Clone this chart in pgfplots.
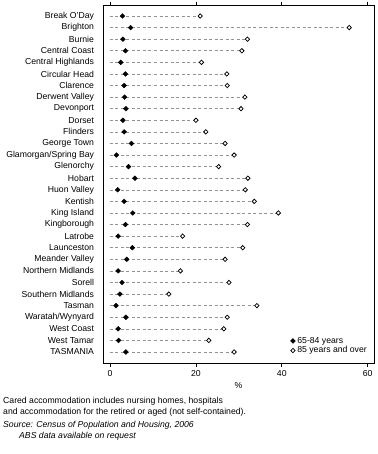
\documentclass[border=0pt]{standalone}
\usepackage{fontspec}
\setmainfont{Liberation Sans}
\usepackage{pgfplots}
\pgfplotsset{compat=1.18}
\usepackage{pgfplotstable}

% 65-84 years (young) and 85 years and over (old), % in cared accommodation
\pgfplotstableread[col sep=comma]{
idx,name,young,old
0,Break O'Day,2.9,21.0
1,Brighton,4.8,55.7
2,Burnie,3.0,32.0
3,Central Coast,3.6,30.7
4,Central Highlands,2.5,21.3
5,Circular Head,3.6,27.2
6,Clarence,3.3,27.3
7,Derwent Valley,3.4,31.4
8,Devonport,3.7,30.5
9,Dorset,3.0,20.0
10,Flinders,3.3,22.3
11,George Town,5.0,26.8
12,Glamorgan/Spring Bay,1.5,28.9
13,Glenorchy,4.3,25.3
14,Hobart,5.8,32.1
15,Huon Valley,1.8,31.5
16,Kentish,3.3,33.6
17,King Island,5.3,39.2
18,Kingborough,3.6,32.0
19,Latrobe,1.9,16.9
20,Launceston,5.2,30.9
21,Meander Valley,3.9,26.8
22,Northern Midlands,1.9,16.4
23,Sorell,2.8,27.7
24,Southern Midlands,2.3,13.7
25,Tasman,1.4,34.2
26,Waratah/Wynyard,3.7,27.3
27,West Coast,1.9,26.5
28,West Tamar,2.0,23.0
29,TASMANIA,3.7,28.9
}\lgadata

\newcommand{\chartfont}{\fontsize{8.7}{10}\selectfont}

\begin{document}
\begin{tikzpicture}
\begin{axis}[
  scale only axis,
  width=271bp, height=358bp,
  xmin=-1.63, xmax=61.47,
  ymin=-0.95, ymax=29.95,
  y dir=reverse,
  axis line style={line width=0.8bp},
  xtick={0,20,40,60},
  xtick pos=both,
  tick align=outside,
  major tick length=3.5bp,
  x tick style={line width=0.6bp, black},
  ytick={0,...,29},
  yticklabels from table={\lgadata}{name},
  y tick style={draw=none},
  yticklabel style={font=\chartfont, xshift=-2bp},
  xticklabel style={font=\chartfont},
  /pgf/number format/assume math mode=true,
  xlabel={\%},
  xlabel style={font=\chartfont, yshift=1bp},
  legend style={draw=none, fill=none, font=\chartfont,
    at={(rel axis cs:0.985,0.015)}, anchor=south east,
    row sep=-2bp, inner sep=1bp},
  legend cell align=left,
  clip=false,
]
  % dashed guide from zero to the 85+ value
  \addplot[xcomb, gray!85, dashed, line width=0.55bp,
    dash pattern=on 3bp off 2.5bp, forget plot]
    table[x=old, y=idx] {\lgadata};
  \addplot[only marks, mark=diamond*, black,
    mark options={xscale=1.35, mark size=2.4bp}]
    table[x=young, y=idx] {\lgadata};
  \addlegendentry{65-84 years}
  \addplot[only marks, mark=diamond*, black,
    mark options={xscale=1.3, mark size=2.2bp, fill=white, line width=0.75bp}]
    table[x=old, y=idx] {\lgadata};
  \addlegendentry{85 years and over}

  % page frame and footnotes
  \path (rel axis cs:0,0) ++(-103bp,-91bp) rectangle ++(378bp,454bp);
  \node[anchor=base west, font=\chartfont, inner sep=0pt]
    at ([shift={(-100bp,-40bp)}]rel axis cs:0,0)
    {Cared accommodation includes nursing homes, hospitals};
  \node[anchor=base west, font=\chartfont, inner sep=0pt]
    at ([shift={(-100bp,-51bp)}]rel axis cs:0,0)
    {and accommodation for the retired or aged (not self-contained).};
  \node[anchor=base west, font=\chartfont\itshape, inner sep=0pt]
    at ([shift={(-100bp,-64bp)}]rel axis cs:0,0)
    {Source: Census of Population and Housing, 2006};
  \node[anchor=base west, font=\chartfont\itshape, inner sep=0pt]
    at ([shift={(-84bp,-75bp)}]rel axis cs:0,0)
    {ABS data available on request};
\end{axis}
\end{tikzpicture}
\end{document}
